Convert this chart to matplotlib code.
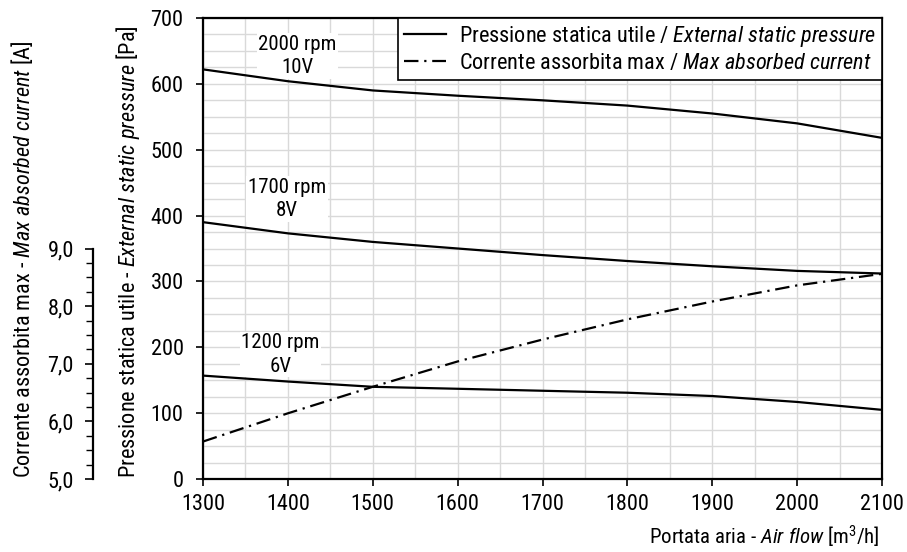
import matplotlib
matplotlib.use("Agg")
import matplotlib.pyplot as plt
from matplotlib import font_manager as fm
from matplotlib.ticker import MultipleLocator, FuncFormatter

# pick a condensed sans family similar to Helvetica Narrow
_cands = ['Liberation Sans Narrow', 'Arial Narrow', 'Nimbus Sans Narrow', 'Roboto Condensed',
          'Archivo Narrow', 'Fira Sans Condensed', 'IBM Plex Sans Condensed', 'Encode Sans Condensed',
          'Asap Condensed', 'Barlow Semi Condensed', 'PT Sans Narrow', 'Liberation Sans']
_fonts = {}
for f in fm.fontManager.ttflist:
    _fonts.setdefault(f.name, set()).add(f.style)
FAM = next((c for c in _cands if c in _fonts and 'italic' in _fonts[c]), 'Liberation Sans')

plt.rcParams['font.family'] = [FAM, 'DejaVu Sans']
plt.rcParams['mathtext.fontset'] = 'custom'
plt.rcParams['mathtext.rm'] = FAM
plt.rcParams['mathtext.it'] = FAM + ':italic'
plt.rcParams['mathtext.bf'] = FAM + ':bold'

# ---- data ----
airflow = [1300, 1400, 1500, 1600, 1700, 1800, 1900, 2000, 2100]
p_2000rpm = [622, 604, 590, 582, 575, 567, 555, 540, 518]
p_1700rpm = [390, 373, 360, 350, 340, 331, 323, 316, 312]
p_1200rpm = [157, 148, 140, 137, 134, 131, 126, 117, 105]
current_A = [5.65, 6.14, 6.60, 7.04, 7.42, 7.77, 8.08, 8.36, 8.56]
curve_labels = ["2000 rpm\n10V", "1700 rpm\n8V", "1200 rpm\n6V"]
label_pos = [(1411, 642), (1399, 425), (1391, 189)]

fig = plt.figure(figsize=(9.07, 5.52), dpi=100)
ax = fig.add_axes([203/907, 73/552, 679/907, 461/552])

FS = 16
ax.set_xlim(1300, 2100)
ax.set_ylim(0, 700)
ax.xaxis.set_major_locator(MultipleLocator(100))
ax.xaxis.set_minor_locator(MultipleLocator(50))
ax.yaxis.set_major_locator(MultipleLocator(100))
ax.yaxis.set_minor_locator(MultipleLocator(25))
ax.grid(True, which='both', color='#d9d9d9', linewidth=1.0)
ax.set_axisbelow(True)
ax.tick_params(which='major', direction='out', length=5, width=1.2, labelsize=FS)
ax.tick_params(axis='y', which='major', pad=9)
ax.tick_params(axis='x', which='major', pad=6)
ax.tick_params(which='minor', length=0)
for s in ax.spines.values():
    s.set_linewidth(1.6)
    s.set_color('black')

l1, = ax.plot(airflow, p_2000rpm, color='black', lw=1.6, zorder=3)
ax.plot(airflow, p_1700rpm, color='black', lw=1.6, zorder=3)
ax.plot(airflow, p_1200rpm, color='black', lw=1.6, zorder=3)

for txt, (x, y) in zip(curve_labels, label_pos):
    ax.text(x, y, txt, ha='center', va='center', fontsize=15, linespacing=1.3, zorder=2,
            bbox=dict(facecolor='white', edgecolor='none', pad=1))

# secondary current axis: 5..9 A mapped onto 0..350 Pa
ax2 = ax.twinx()
ax2.set_ylim(5, 5 + 700 / 87.5)
ax2.yaxis.set_ticks_position('left')
ax2.yaxis.set_label_position('left')
ax2.spines['left'].set_position(('outward', 79))
ax2.spines['left'].set_bounds(5, 9)
ax2.spines['left'].set_linewidth(1.6)
for k in ['right', 'top', 'bottom']:
    ax2.spines[k].set_visible(False)
ax2.set_yticks([5, 6, 7, 8, 9])
ax2.set_yticks([v / 4 for v in range(20, 37)], minor=True)
ax2.yaxis.set_major_formatter(FuncFormatter(lambda v, p: f"{v:.1f}".replace('.', ',')))
ax2.tick_params(which='major', direction='out', length=6, width=1.2, labelsize=FS, pad=8)
ax2.tick_params(which='minor', direction='out', length=5, width=1.0)
l2, = ax2.plot(airflow, current_A, color='black', lw=1.6, linestyle=(0, (6.5, 2.6, 1, 2.6)))

leg = ax.legend([l1, l2],
                [r"Pressione statica utile / $\it{External\ static\ pressure}$",
                 r"Corrente assorbita max / $\it{Max\ absorbed\ current}$"],
                loc='upper right', fontsize=FS, frameon=True, fancybox=False,
                edgecolor='black', framealpha=1, borderaxespad=0, handlelength=1.9,
                handletextpad=0.6, borderpad=0.25, labelspacing=0.2)
leg.get_frame().set_linewidth(1.2)
leg.set_zorder(5)

fig.text(880/907, 2/552, r"Portata aria - $\it{Air\ flow}$ [m$^3$/h]", ha='right', va='bottom', fontsize=15)
fig.text(128/907, 74/552, r"Pressione statica utile - $\it{External\ static\ pressure}$ [Pa]",
         rotation=90, ha='center', va='bottom', fontsize=FS)
fig.text(22/907, 74/552, r"Corrente assorbita max - $\it{Max\ absorbed\ current}$ [A]",
         rotation=90, ha='center', va='bottom', fontsize=FS)

fig.savefig("out.png", dpi=100)
